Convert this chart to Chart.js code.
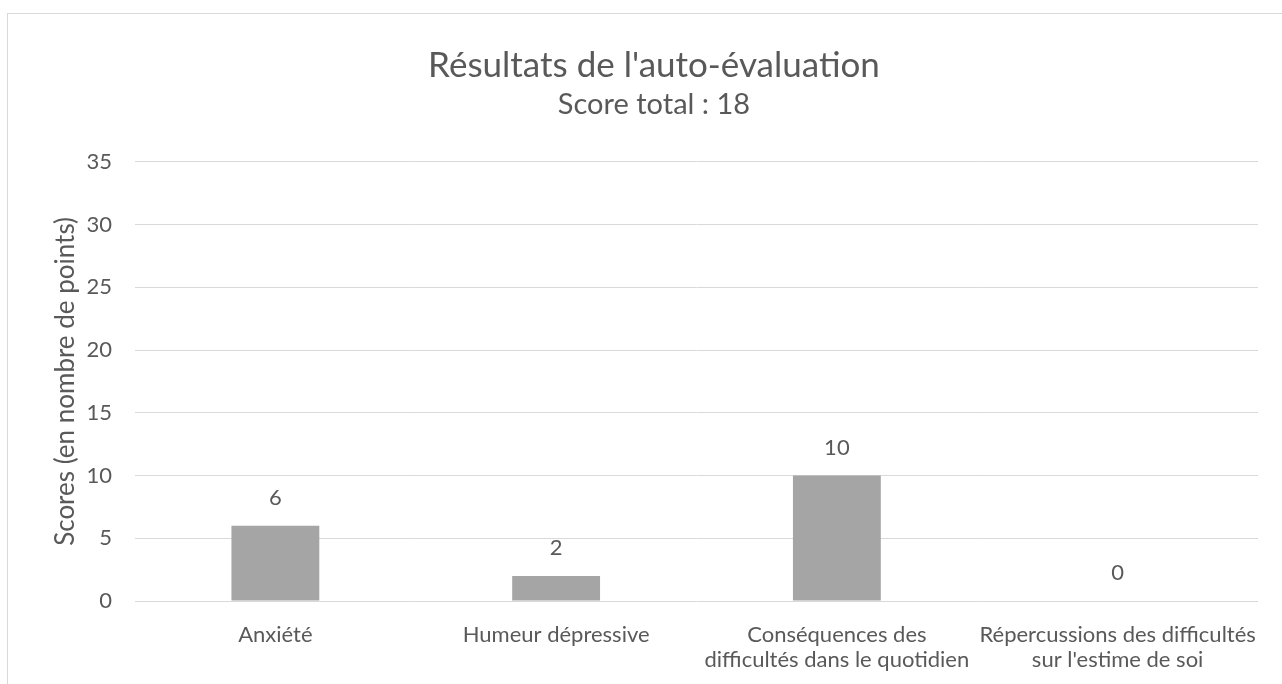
<!DOCTYPE html>
<html>
<head>
<meta charset="utf-8">
<script src="https://cdn.jsdelivr.net/npm/chart.js@4"></script>
<style>
  html, body { margin:0; padding:0; background:#fff; overflow:hidden; }
  #frame { position:absolute; left:7px; top:13px; width:1400px; height:800px;
           border-left:1.5px solid #d9d9d9; border-top:1.5px solid #d9d9d9; }
  #wrap { position:absolute; left:0; top:0; width:1282px; height:684px; }
</style>
</head>
<body>
<div id="frame"></div>
<div id="wrap"><canvas id="c" width="1282" height="684"></canvas></div>
<script>
const categories = [
  'Anxiété',
  'Humeur dépressive',
  ['Conséquences des', 'difficultés dans le quotidien'],
  ['Répercussions des difficultés', "sur l'estime de soi"]
];
const scores = [6, 2, 10, 0];
const yTicks = [0, 5, 10, 15, 20, 25, 30, 35];

const FONT = 'Lato, "Open Sans", sans-serif';
const TXT = '#595959';

const valueLabels = {
  id: 'valueLabels',
  afterDatasetsDraw(chart) {
    const ctx = chart.ctx;
    const meta = chart.getDatasetMeta(0);
    ctx.save();
    ctx.font = '22px ' + FONT;
    ctx.fillStyle = TXT;
    ctx.textAlign = 'center';
    ctx.textBaseline = 'middle';
    meta.data.forEach((bar, i) => {
      ctx.fillText(String(scores[i]), bar.x, bar.y - 28);
    });
    ctx.restore();
  }
};

new Chart(document.getElementById('c'), {
  type: 'bar',
  data: {
    labels: categories,
    datasets: [{
      data: scores,
      backgroundColor: '#a5a5a5',
      borderWidth: 0,
      categoryPercentage: 1,
      barPercentage: 0.313
    }]
  },
  options: {
    responsive: false,
    animation: false,
    layout: { padding: { left: 50, right: 24, top: 0, bottom: 0 } },
    plugins: {
      legend: { display: false },
      tooltip: { enabled: false },
      title: {
        display: true,
        text: "Résultats de l'auto-évaluation",
        color: TXT,
        font: { family: FONT, size: 35, weight: 'normal' },
        padding: { top: 45, bottom: 0 }
      },
      subtitle: {
        display: true,
        text: 'Score total : 18',
        color: TXT,
        font: { family: FONT, size: 29, weight: 'normal' },
        padding: { top: 0, bottom: 40 }
      }
    },
    scales: {
      x: {
        grid: { display: false },
        border: { display: false },
        ticks: { color: TXT, font: { family: FONT, size: 22, lineHeight: 1.15 }, padding: 13, maxRotation: 0, autoSkip: false },
        afterFit(scale) { scale.height = 83; }
      },
      y: {
        min: 0, max: 35,
        afterBuildTicks(scale) { scale.ticks = yTicks.map(v => ({ value: v })); },
        grid: { color: '#d9d9d9', lineWidth: 1, drawTicks: false },
        border: { display: false },
        ticks: { color: TXT, font: { family: FONT, size: 22 }, padding: 23 },
        title: {
          display: true,
          text: 'Scores (en nombre de points)',
          color: TXT,
          font: { family: FONT, size: 26 },
          padding: { top: 0, bottom: 0 }
        },
        afterFit(scale) { scale.width = 85; }
      }
    }
  },
  plugins: [valueLabels]
});
</script>
</body>
</html>
